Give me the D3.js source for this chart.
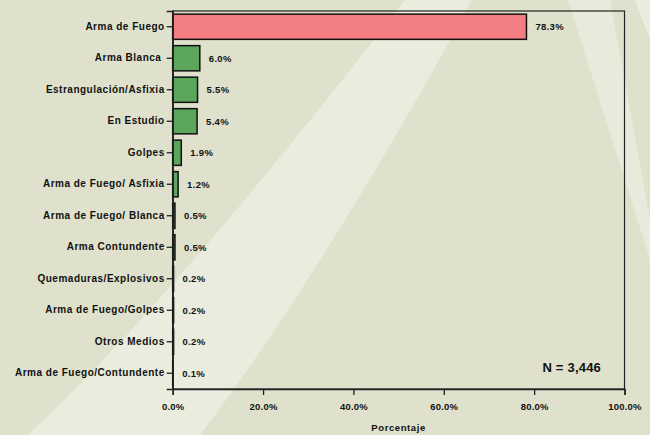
<!DOCTYPE html>
<html>
<head>
<meta charset="utf-8">
<script src="https://cdn.jsdelivr.net/npm/d3@7"></script>
<style>
  html, body { margin: 0; padding: 0; background: #dfe1cc; }
  svg { display: block; }
  text { font-family: Arial, "Liberation Sans", sans-serif; font-weight: bold; fill: #111; }
</style>
</head>
<body>
<svg id="chart" width="650" height="435"></svg>
<script>
// Causes of death, share of total (%)
const categories = [
  "Arma de Fuego", "Arma Blanca ", "Estrangulación/Asfixia", "En Estudio",
  "Golpes", "Arma de Fuego/ Asfixia", "Arma de Fuego/ Blanca", "Arma Contundente",
  "Quemaduras/Explosivos", "Arma de Fuego/Golpes", "Otros Medios", "Arma de Fuego/Contundente"
];
const values = [78.3, 6.0, 5.5, 5.4, 1.9, 1.2, 0.5, 0.5, 0.2, 0.2, 0.2, 0.1];
const xTicks = [0, 20, 40, 60, 80, 100];
const totalN = "N = 3,446";
const axisTitle = "Porcentaje";

const W = 650, H = 435;
const margin = { top: 11, right: 25.5, bottom: 46, left: 172.7 };
const svg = d3.select("#chart");

// Background decoration: pale swooping bands
const deco = svg.append("g");
deco.append("rect").attr("width", W).attr("height", H).attr("fill", "#dfe1cc");
deco.append("path").attr("d", "M28,435 C120,350 250,200 405,0 L472,0 C380,170 280,330 200,435 Z").attr("fill", "#eaedde");
deco.append("path").attr("d", "M568,0 L610,0 L650,220 L650,260 Z").attr("fill", "#e8ebdb");
deco.append("path").attr("d", "M635,0 L650,0 L650,40 Z").attr("fill", "#eaedde");

const x = d3.scaleLinear().domain([0, 100]).range([margin.left, W - margin.right]);
const y = d3.scaleBand().domain(categories).range([margin.top, H - margin.bottom]).paddingInner(0.2).paddingOuter(0.1);

// Frame around plot area
svg.append("rect")
  .attr("x", x(0)).attr("y", margin.top)
  .attr("width", x(100) - x(0)).attr("height", H - margin.bottom - margin.top)
  .attr("fill", "none").attr("stroke", "#222").attr("stroke-width", 1.2);

// Bars
svg.append("g").selectAll("rect")
  .data(values)
  .join("rect")
  .attr("x", x(0))
  .attr("y", (d, i) => y(categories[i]))
  .attr("width", d => x(d) - x(0))
  .attr("height", y.bandwidth())
  .attr("fill", (d, i) => i === 0 ? "#f47f83" : "#5ba65a")
  .attr("stroke", "#111")
  .attr("stroke-width", 1.5);

// Value labels
svg.append("g").selectAll("text")
  .data(values)
  .join("text")
  .attr("x", d => x(d) + 9)
  .attr("y", (d, i) => y(categories[i]) + y.bandwidth() / 2)
  .attr("dy", "0.35em")
  .attr("font-size", 9.5)
  .attr("letter-spacing", 0.3)
  .text(d => d.toFixed(1) + "%");

// Y axis
const yAxis = svg.append("g")
  .attr("transform", `translate(${x(0)},0)`)
  .call(d3.axisLeft(y).tickSize(6).tickPadding(2));
yAxis.select(".domain").attr("stroke", "#222").attr("stroke-width", 1.5);
yAxis.selectAll(".tick line").attr("stroke", "#222").attr("stroke-width", 1.3);
yAxis.selectAll(".tick text").attr("font-size", 10).attr("fill", "#111")
  .attr("letter-spacing", 0.5)
  .attr("font-family", "Arial, 'Liberation Sans', sans-serif").attr("font-weight", "bold")
  .style("white-space", "pre");

// X axis
const xAxis = svg.append("g")
  .attr("transform", `translate(0,${H - margin.bottom})`)
  .call(d3.axisBottom(x).tickValues(xTicks).tickFormat(d => d.toFixed(1) + "%").tickSize(6).tickPadding(8));
xAxis.select(".domain").attr("stroke", "#222").attr("stroke-width", 1.5);
xAxis.selectAll(".tick line").attr("stroke", "#222").attr("stroke-width", 1.3);
xAxis.selectAll(".tick text").attr("font-size", 9.5).attr("fill", "#111")
  .attr("letter-spacing", 0.2)
  .attr("font-family", "Arial, 'Liberation Sans', sans-serif").attr("font-weight", "bold");

// Axis title
svg.append("text")
  .attr("x", (x(0) + x(100)) / 2).attr("y", 431)
  .attr("text-anchor", "middle").attr("font-size", 9.5)
  .attr("letter-spacing", 0.6)
  .text(axisTitle);

// Sample size
svg.append("text")
  .attr("x", 601).attr("y", 372)
  .attr("text-anchor", "end").attr("font-size", 13)
  .attr("letter-spacing", 0.2)
  .text(totalN);
</script>
</body>
</html>
